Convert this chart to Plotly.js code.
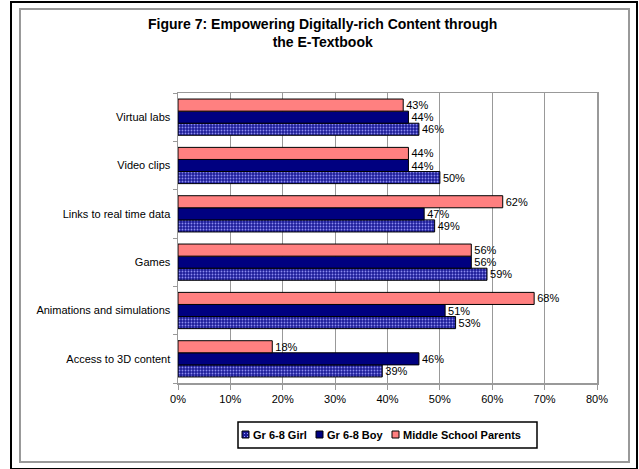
<!DOCTYPE html>
<html>
<head>
<meta charset="utf-8">
<script src="https://cdn.plot.ly/plotly-3.0.1.min.js"></script>
<style>
html,body{margin:0;padding:0;background:#fff;}
#wrap{position:relative;width:639px;height:469px;}
#chart{position:absolute;left:0;top:0;width:639px;height:469px;}
.frame1{position:absolute;left:10px;top:1px;width:624px;height:465px;border:2px solid #000;pointer-events:none;}
.frame2{position:absolute;left:19px;top:8px;width:607px;height:451px;border:2px solid #999;pointer-events:none;}
</style>
</head>
<body>
<div id="wrap">
<div id="chart"></div>
<div class="frame1"></div>
<div class="frame2"></div>
</div>
<script>
// categories listed bottom-to-top
const categories = ['Access to 3D content', 'Animations and simulations', 'Games', 'Links to real time data', 'Video clips', 'Virtual labs'];
const girl    = [39, 53, 59, 49, 50, 46];
const boy     = [46, 51, 56, 47, 44, 44];
const parents = [18, 68, 56, 62, 44, 43];
const seriesNames = ['Gr 6-8 Girl', 'Gr 6-8 Boy', 'Middle School Parents'];
const seriesColors = ['#1c1c98', '#000080', '#ff8080'];
const xTickVals = [0, 10, 20, 30, 40, 50, 60, 70, 80];
const xTickText = ['0%', '10%', '20%', '30%', '40%', '50%', '60%', '70%', '80%'];

const FONT = 'Liberation Sans, Arial, sans-serif';
const labelFont = {family: FONT, size: 11, color: '#000'};
function pct(a){ return a.map(v => v + '%'); }

const traces = [
  {
    type: 'bar', orientation: 'h', name: seriesNames[0], y: categories, x: girl,
    text: pct(girl), textposition: 'outside', textfont: labelFont, cliponaxis: false,
    marker: {color: seriesColors[0], line: {color: '#000', width: 1},
      pattern: {shape: '.', fgcolor: '#8c8cf0', bgcolor: '#1c1c98', size: 3, solidity: 0.3}}
  },
  {
    type: 'bar', orientation: 'h', name: seriesNames[1], y: categories, x: boy,
    text: pct(boy), textposition: 'outside', textfont: labelFont, cliponaxis: false,
    marker: {color: seriesColors[1], line: {color: '#000', width: 1}}
  },
  {
    type: 'bar', orientation: 'h', name: seriesNames[2], y: categories, x: parents,
    text: pct(parents), textposition: 'outside', textfont: labelFont, cliponaxis: false,
    marker: {color: seriesColors[2], line: {color: '#000', width: 1}}
  }
];

// plot area in pixels (for placing the custom legend box)
const M = {l: 178, r: 42, t: 93, b: 86};
const W = 639, H = 469;
const pw = W - M.l - M.r, ph = H - M.t - M.b;
const px = x => (x - M.l) / pw;
const py = y => (H - M.b - y) / ph;

// custom compact legend (like the original Excel legend)
const legendBox = {x0: 238, x1: 537, y0: 422, y1: 448};
const legendSym = [242, 316, 392];
const shapes = [
  {type: 'rect', xref: 'paper', yref: 'paper', x0: px(legendBox.x0), x1: px(legendBox.x1),
   y0: py(legendBox.y1), y1: py(legendBox.y0), line: {color: '#000', width: 1.5}, fillcolor: '#fff'}
];
const annotations = [];
seriesNames.forEach((n, i) => {
  const sx = legendSym[i];
  shapes.push({type: 'rect', xref: 'paper', yref: 'paper', x0: px(sx), x1: px(sx + 7),
    y0: py(438), y1: py(431), line: {color: '#000', width: 1}, fillcolor: seriesColors[i]});
  annotations.push({xref: 'paper', yref: 'paper', x: px(sx + 9), y: py(435), xanchor: 'left', yanchor: 'middle',
    text: n, showarrow: false, font: {family: FONT, size: 11, color: '#000', weight: 'bold'}});
});
// dotted texture in the Girl legend swatch
[[244, 433], [247, 436], [244, 436], [247, 433]].forEach(d => {
  shapes.push({type: 'rect', xref: 'paper', yref: 'paper', x0: px(d[0]), x1: px(d[0] + 1),
    y0: py(d[1] + 1), y1: py(d[1]), line: {width: 0}, fillcolor: '#a0a0ff'});
});

const layout = {
  width: W, height: H,
  margin: M,
  paper_bgcolor: '#fff', plot_bgcolor: '#fff',
  font: {family: FONT, size: 11, color: '#000'},
  title: {
    text: 'Figure 7: Empowering Digitally-rich Content through<br>the E-Textbook',
    font: {family: FONT, size: 14, color: '#000', weight: 'bold'},
    xref: 'container', x: 0.505, xanchor: 'center',
    yref: 'container', y: 1 - 29/469, yanchor: 'top'
  },
  barmode: 'group', bargap: 0.25, bargroupgap: 0,
  showlegend: false,
  shapes: shapes,
  annotations: annotations,
  xaxis: {
    range: [0, 80], tickvals: xTickVals, ticktext: xTickText,
    showgrid: true, gridcolor: '#999', gridwidth: 1,
    showline: true, linecolor: '#999', linewidth: 1.5, mirror: true,
    ticks: 'outside', ticklen: 5, tickcolor: '#999',
    zeroline: false, tickfont: labelFont, fixedrange: true
  },
  yaxis: {
    type: 'category', tickson: 'boundaries',
    showline: true, linecolor: '#999', linewidth: 1.5, mirror: true,
    ticks: 'outside', ticklen: 4, tickcolor: '#999',
    showgrid: false, tickfont: labelFont, ticklabelstandoff: 4, fixedrange: true
  }
};

Plotly.newPlot('chart', traces, layout, {displayModeBar: false, staticPlot: true});
</script>
</body>
</html>
